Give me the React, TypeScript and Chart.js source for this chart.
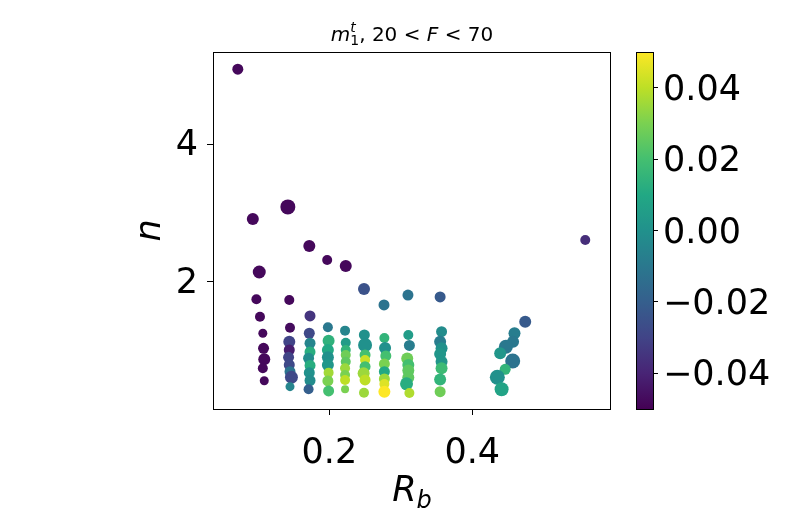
import { useEffect, useRef } from "react"
import Chart from "chart.js/auto"

// R_b of each point (tail first, then the vertical columns, then the right-hand group)
const rbValues = [
  0.072, 0.093, 0.142, 0.102, 0.172, 0.197, 0.223, 0.2485, 0.2765, 0.31, 0.355, 0.558, 0.098, 0.144, 0.173,
  0.103, 0.107, 0.108, 0.109, 0.107, 0.109,
  0.145, 0.144, 0.144, 0.143, 0.144, 0.145, 0.147, 0.145,
  0.172, 0.173, 0.173, 0.171, 0.173, 0.172, 0.173, 0.171,
  0.198, 0.199, 0.198, 0.198, 0.198, 0.199, 0.198, 0.199,
  0.222, 0.223, 0.223, 0.223, 0.223, 0.222, 0.222, 0.222, 0.222,
  0.249, 0.25, 0.25, 0.25, 0.25, 0.248, 0.25, 0.2485,
  0.277, 0.278, 0.279, 0.277, 0.277, 0.277, 0.277, 0.277,
  0.3105, 0.312, 0.309, 0.3105, 0.3105, 0.3105, 0.308, 0.312,
  0.357, 0.355, 0.357, 0.355, 0.357, 0.357, 0.355, 0.355,
  0.474, 0.459, 0.457, 0.447, 0.439, 0.4565, 0.446, 0.435, 0.441,
]

// n of each point
const nValues = [
  5.09, 2.915, 3.09, 2.145, 2.523, 2.32, 2.232, 1.898, 1.666, 1.81, 1.782, 2.61, 1.749, 1.739, 1.506,
  1.496, 1.255, 1.037, 0.877, 0.747, 0.566,
  1.336, 1.133, 1.012, 0.906, 0.794, 0.697, 0.616, 0.479,
  1.255, 1.11, 0.983, 0.892, 0.787, 0.683, 0.569, 0.442,
  1.342, 1.147, 1.012, 0.906, 0.794, 0.683, 0.562, 0.417,
  1.293, 1.118, 1.012, 0.94, 0.842, 0.747, 0.649, 0.577, 0.442,
  1.23, 1.085, 0.94, 0.867, 0.77, 0.674, 0.577, 0.392,
  1.187, 1.041, 0.925, 0.809, 0.697, 0.591, 0.519, 0.407,
  1.23, 1.078, 0.889, 0.794, 0.715, 0.613, 0.521, 0.388,
  1.278, 1.133, 1.037, 0.954, 0.842, 0.747, 0.584, 0.407,
  1.423, 1.255, 1.133, 1.06, 0.964, 0.853, 0.732, 0.616, 0.442,
]

// colour value (m_1^t) of each point
const mValues = [
  -0.048, -0.048, -0.048, -0.048, -0.048, -0.048, -0.048, -0.025, -0.012, -0.012, -0.022, -0.037, -0.048, -0.048, -0.035,
  -0.048, -0.048, -0.048, -0.048, -0.048, -0.048,
  -0.047, -0.03, -0.042, -0.03, -0.028, -0.012, -0.028, -0.005,
  -0.028, -0.005, 0.012, -0.002, 0.012, 0.0, -0.002, -0.02,
  -0.01, 0.014, 0.01, 0.0, 0.002, 0.036, 0.03, 0.02,
  -0.005, 0.005, 0.015, 0.028, 0.025, 0.035, 0.03, 0.04, 0.03,
  0.0, 0.0, 0.02, 0.042, 0.02, 0.035, 0.04, 0.035,
  0.015, 0.0, 0.02, 0.03, 0.01, 0.035, 0.045, 0.05,
  0.005, -0.008, 0.028, 0.02, 0.025, 0.025, 0.012, 0.038,
  -0.002, -0.008, 0.0, 0.002, 0.002, 0.018, 0.015, 0.028,
  -0.022, -0.008, -0.01, -0.01, 0.002, -0.012, 0.015, 0.0, 0.008,
]

// marker radius of each point
const markerSizes = [
  5.5, 6, 7.5, 6.5, 6, 5, 6, 6, 5.5, 5.5, 5.5, 5, 5, 5, 5.5,
  5, 4.5, 5.5, 6, 5, 4.5,
  5, 6, 5.5, 5.5, 5.5, 5.5, 6.5, 4.5,
  5.5, 5.5, 5.5, 5.5, 5.5, 5.5, 5.5, 5,
  5, 6, 6, 6, 6, 5, 5.5, 5.5,
  5, 5, 5, 5, 5, 5, 5, 5, 4,
  5.5, 7, 5.5, 5, 5.5, 6, 5.5, 5,
  5, 6, 5.5, 5.5, 5.5, 5.5, 5, 6,
  5, 5.5, 6, 6, 6, 6, 6.5, 5,
  5.5, 6, 6, 6, 6, 6, 6, 5.5,
  6, 6, 6, 7, 6, 7.5, 5.5, 7.5, 7,
]

const xTicks = [0.2, 0.4]
const yTicks = [2, 4]
const cbarTicks = [-0.04, -0.02, 0.0, 0.02, 0.04]
const cMin = -0.05
const cMax = 0.05

const VIRIDIS = [
  "#440154", "#482475", "#414487", "#355f8d", "#2a788e", "#21918c",
  "#22a884", "#44bf70", "#7ad151", "#bddf26", "#fde725",
]

function hexToRgb(h: string) {
  return [1, 3, 5].map((i) => parseInt(h.slice(i, i + 2), 16))
}

function viridis(t: number) {
  const c = Math.min(1, Math.max(0, t)) * (VIRIDIS.length - 1)
  const i = Math.min(VIRIDIS.length - 2, Math.floor(c))
  const f = c - i
  const a = hexToRgb(VIRIDIS[i])
  const b = hexToRgb(VIRIDIS[i + 1])
  const rgb = a.map((v, k) => Math.round(v + (b[k] - v) * f))
  return `rgb(${rgb[0]}, ${rgb[1]}, ${rgb[2]})`
}

const FONT = "DejaVu Sans"

type Run = { t: string; size: number; italic?: boolean; dy?: number; stack?: boolean }

// draws mixed-size text runs centred on cx; a "stack" run shares its x with the next run
function drawRuns(ctx: CanvasRenderingContext2D, runs: Run[], cx: number, baseline: number) {
  const fontOf = (r: Run) => `${r.italic ? "italic " : ""}${r.size}px '${FONT}'`
  const widths = runs.map((r) => {
    ctx.font = fontOf(r)
    return ctx.measureText(r.t).width
  })
  let total = 0
  for (let i = 0; i < runs.length; i++) {
    if (runs[i].stack) {
      total += Math.max(widths[i], widths[i + 1])
      i++
    } else total += widths[i]
  }
  let x = cx - total / 2
  ctx.textAlign = "left"
  ctx.textBaseline = "alphabetic"
  for (let i = 0; i < runs.length; i++) {
    const r = runs[i]
    ctx.font = fontOf(r)
    ctx.fillText(r.t, x, baseline + (r.dy || 0))
    if (r.stack) {
      const n = runs[i + 1]
      ctx.font = fontOf(n)
      ctx.fillText(n.t, x, baseline + (n.dy || 0))
      x += Math.max(widths[i], widths[i + 1])
      i++
    } else x += widths[i]
  }
}

const decorations = {
  id: "decorations",
  afterLayout(chart: any) {
    // move the colour-bar axis to the right of the bar
    const cb = chart.scales.cbar
    const w = cb.right - cb.left
    cb.left = chart.chartArea.right + 42
    cb.right = cb.left + w
  },
  afterDraw(chart: any) {
    const ctx: CanvasRenderingContext2D = chart.ctx
    const { left, right, top, bottom } = chart.chartArea
    const cb = chart.scales.cbar
    ctx.save()

    // frame
    ctx.strokeStyle = "#000"
    ctx.lineWidth = 1
    ctx.strokeRect(Math.round(left) + 0.5, Math.round(top) + 0.5, Math.round(right - left) - 1, Math.round(bottom - top))

    // colour bar
    const yLo = cb.getPixelForValue(cMin)
    const yHi = cb.getPixelForValue(cMax)
    const bx = cb.left - 17
    const grad = ctx.createLinearGradient(0, yLo, 0, yHi)
    VIRIDIS.forEach((c, i) => grad.addColorStop(i / (VIRIDIS.length - 1), c))
    ctx.fillStyle = grad
    ctx.fillRect(bx, yHi, 17, yLo - yHi)
    ctx.strokeRect(Math.round(bx) + 0.5, Math.round(yHi) + 0.5, 17, Math.round(yLo - yHi))

    // title and axis labels
    ctx.fillStyle = "#000"
    const cx = (left + right) / 2
    drawRuns(
      ctx,
      [
        { t: "m", size: 20, italic: true },
        { t: "t", size: 14, italic: true, dy: -9, stack: true },
        { t: "1", size: 14, dy: 4 },
        { t: ", 20 < ", size: 20 },
        { t: "F", size: 20, italic: true },
        { t: " < 70", size: 20 },
      ],
      cx,
      41
    )
    drawRuns(
      ctx,
      [
        { t: "R", size: 35, italic: true },
        { t: "b", size: 24, italic: true, dy: 7 },
      ],
      cx,
      501
    )
    ctx.save()
    ctx.translate(160, (top + bottom) / 2)
    ctx.rotate(-Math.PI / 2)
    drawRuns(ctx, [{ t: "n", size: 35, italic: true }], 0, 0)
    ctx.restore()

    ctx.restore()
  },
}

export default function App() {
  const canvasRef = useRef<HTMLCanvasElement>(null)

  useEffect(() => {
    if (!canvasRef.current) return
    const ctx = canvasRef.current.getContext("2d")
    if (!ctx) return
    Chart.defaults.font.family = FONT
    Chart.defaults.color = "#000"

    const points = rbValues.map((x, i) => ({ x, y: nValues[i] }))

    const chart = new Chart(ctx, {
      type: "scatter",
      data: {
        datasets: [
          {
            data: points,
            pointBackgroundColor: mValues.map((m) => viridis((m - cMin) / (cMax - cMin))),
            pointRadius: markerSizes,
            pointHoverRadius: markerSizes,
            pointBorderWidth: 0,
          },
        ],
      },
      options: {
        responsive: false,
        animation: false,
        events: [],
        layout: { padding: { top: 52, left: 0, right: 0, bottom: 0 } },
        plugins: { legend: { display: false }, tooltip: { enabled: false }, title: { display: false } },
        scales: {
          x: {
            type: "linear",
            min: 0.0373,
            max: 0.594,
            border: { display: false },
            grid: { drawOnChartArea: false, drawTicks: true, tickLength: 6, color: "#000" },
            ticks: {
              font: { size: 35 },
              padding: 18,
              maxRotation: 0,
              autoSkip: false,
              callback: (v: any) => Number(v).toFixed(1),
            },
            afterBuildTicks: (axis: any) => {
              axis.ticks = xTicks.map((value) => ({ value }))
            },
            afterFit: (axis: any) => {
              axis.height = 117
            },
          },
          y: {
            type: "linear",
            min: 0.155,
            max: 5.34,
            border: { display: false },
            grid: { drawOnChartArea: false, drawTicks: true, tickLength: 6, color: "#000" },
            ticks: {
              font: { size: 35 },
              padding: 9,
              labelOffset: 2,
              autoSkip: false,
              callback: (v: any) => String(v),
            },
            afterBuildTicks: (axis: any) => {
              axis.ticks = yTicks.map((value) => ({ value }))
            },
            afterFit: (axis: any) => {
              axis.width = 213
            },
          },
          cbar: {
            type: "linear",
            position: "right",
            min: cMin,
            max: cMax,
            border: { display: false },
            grid: { drawOnChartArea: false, drawTicks: true, tickLength: 5, color: "#000" },
            ticks: {
              font: { size: 35 },
              padding: 5,
              labelOffset: 3,
              autoSkip: false,
              callback: (v: any) => {
                const s = Math.abs(Number(v)).toFixed(2)
                return Number(v) < -1e-9 ? "\u2212" + s : s
              },
            },
            afterBuildTicks: (axis: any) => {
              axis.ticks = cbarTicks.map((value) => ({ value }))
            },
            afterFit: (axis: any) => {
              axis.width = 178
            },
          },
        },
      },
      plugins: [decorations],
    })

    return () => chart.destroy()
  }, [])

  return (
    <div style={{ position: "fixed", left: 0, top: 0, width: 789, height: 526, background: "#fff" }}>
      <canvas ref={canvasRef} width={789} height={526} style={{ display: "block" }} />
    </div>
  )
}
